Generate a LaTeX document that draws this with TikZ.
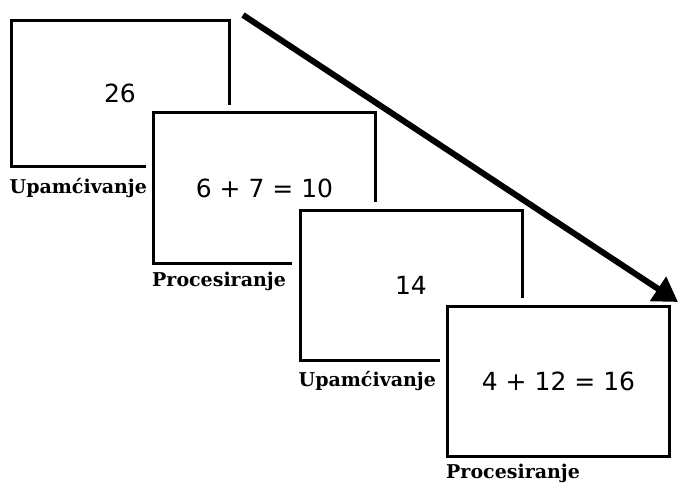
\documentclass[tikz,border=0pt]{standalone}
\usepackage{fontspec}
\setmainfont{DejaVu Sans}
\newfontfamily\stagefont{DejaVu Serif}
\usetikzlibrary{arrows.meta,positioning}
\tikzset{
  box/.style={draw=black, fill=white, line width=3pt,
              preaction={draw=white, line width=16pt},
              minimum width=222pt, minimum height=150pt,
              font=\fontsize{25}{30}\selectfont},
  lbl/.style={font=\stagefont\bfseries\fontsize{19}{23}\selectfont,
              inner sep=0pt, anchor=base west},
  arr/.style={-{Triangle[length=24pt, width=28pt]}, line width=6pt},
}
\begin{document}
\begin{tikzpicture}[x=1pt, y=-1pt]
  \useasboundingbox (0,0) rectangle (680,484);
  % staggered task windows
  \node[box, minimum width=218pt, minimum height=145pt] (b1) at (120,93.5) {26};
  \node[box] (b2) at (264.5,188) {6 + 7 = 10};
  \node[box] (b3) at (411,285) {14};
  \node[box] (b4) at (558.5,381) {4 + 12 = 16};

  \node[below=26pt of b1.south west, lbl] (l1) {Upamćivanje};
  \node[below=22pt of b2.south west, lbl] (l2) {Procesiranje};
  \node[below=25pt of b3.south west, lbl] (l3) {Upamćivanje};
  \node[below=21pt of b4.south west, lbl] (l4) {Procesiranje};

  \coordinate (t0) at (243,15);
  \coordinate (t1) at (678,302);
  \draw[arr] (t0) -- (t1);
\end{tikzpicture}
\end{document}
